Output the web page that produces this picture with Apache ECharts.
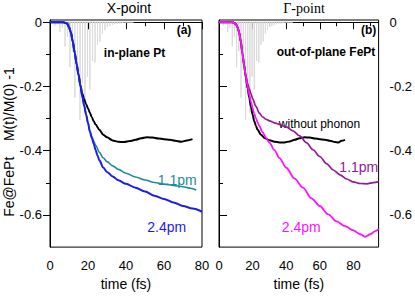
<!DOCTYPE html>
<html>
<head>
<meta charset="utf-8">
<script src="https://cdn.jsdelivr.net/npm/echarts@6/dist/echarts.min.js"></script>
<style>
html,body{margin:0;padding:0;background:#fff;}
#c{width:415px;height:296px;}
</style>
</head>
<body>
<div id="c"></div>
<script>
// ---- data (time in fs, value = M(t)/M(0) - 1) ----
const pulseT = [2.6, 3.9, 5.2, 6.5, 7.9, 9.2, 10.5, 11.8, 13.1, 14.5, 15.8, 17.1, 18.4, 19.7, 21.0, 22.4, 23.7, 25.0, 26.3, 27.6, 28.9, 30.2, 31.5, 32.9, 34.2, 35.5, 36.8, 38.1, 39.4];
const pulseV = [-0.01, -0.006, -0.03, -0.018, -0.075, -0.045, -0.14, -0.09, -0.235, -0.15, -0.305, -0.19, -0.28, -0.17, -0.21, -0.12, -0.125, -0.07, -0.06, -0.035, -0.025, -0.015, -0.012, -0.008, -0.006, -0.004, -0.004, -0.003, -0.002];
const pulseEnd = 44;

// X-point, in-plane Pt
const xNoPhT = [0,7,9,10,11,12,13,14,15,16,17,18,19,20,21,22,23,24,26,28,30,33,36,39,42,45,48,51,54,57,60,63,66,69,72,75];
const xNoPhV = [0,0,-0.004,-0.015,-0.032,-0.06,-0.095,-0.13,-0.163,-0.196,-0.222,-0.24,-0.255,-0.268,-0.282,-0.296,-0.308,-0.318,-0.335,-0.35,-0.358,-0.368,-0.372,-0.373,-0.370,-0.366,-0.361,-0.358,-0.359,-0.362,-0.364,-0.366,-0.369,-0.372,-0.368,-0.364];
const x11T = [0,7,9,10,11,12,13,14,15,16,17,18,19,20,21,22,23,24,26,28,30,33,36,40,45,50,55,60,65,70,74,77];
const x11V = [0,0,-0.004,-0.015,-0.032,-0.06,-0.095,-0.13,-0.163,-0.198,-0.232,-0.26,-0.287,-0.314,-0.34,-0.356,-0.37,-0.383,-0.405,-0.422,-0.434,-0.447,-0.458,-0.47,-0.482,-0.491,-0.499,-0.504,-0.508,-0.512,-0.517,-0.522];
const x24T = [0,7,9,10,11,12,13,14,15,16,17,18,19,20,21,22,23,24,25,26,28,30,33,36,40,45,50,55,60,65,70,75,80];
const x24V = [0,0,-0.004,-0.015,-0.032,-0.06,-0.095,-0.13,-0.163,-0.198,-0.232,-0.26,-0.287,-0.314,-0.34,-0.36,-0.378,-0.398,-0.415,-0.43,-0.452,-0.466,-0.48,-0.492,-0.503,-0.515,-0.527,-0.54,-0.55,-0.561,-0.572,-0.58,-0.59];

// Gamma-point, out-of-plane FePt
const gNoPhT = [0,8,10,11,12,13,14,15,16,17,18,19,20,21,22,23,25,27,30,33,36,39,42,45,48,51,54,57,60,63,66,69,71,73,75];
const gNoPhV = [0,0,-0.005,-0.015,-0.032,-0.06,-0.1,-0.135,-0.172,-0.205,-0.235,-0.262,-0.288,-0.308,-0.323,-0.335,-0.35,-0.36,-0.367,-0.372,-0.374,-0.374,-0.371,-0.366,-0.361,-0.358,-0.359,-0.362,-0.364,-0.366,-0.369,-0.373,-0.374,-0.369,-0.366];
const g11T = [0,8,10,11,12,13,14,15,16,17,18,19,20,22,24,26,28,30,33,36,40,44,48,52,56,60,64,68,72,76,80,84,88,92,95];
const g11V = [0,0,-0.005,-0.015,-0.032,-0.06,-0.1,-0.135,-0.168,-0.19,-0.207,-0.222,-0.238,-0.262,-0.283,-0.295,-0.302,-0.307,-0.313,-0.318,-0.326,-0.338,-0.354,-0.375,-0.397,-0.418,-0.44,-0.46,-0.475,-0.488,-0.497,-0.502,-0.503,-0.499,-0.496];
const g24T = [0,8,10,11,12,13,14,15,16,17,18,19,20,21,22,23,24,26,28,30,33,36,40,45,50,55,60,65,70,75,80,84,87,90,93,95];
const g24V = [0,0,-0.005,-0.015,-0.032,-0.06,-0.1,-0.135,-0.17,-0.2,-0.225,-0.248,-0.268,-0.285,-0.299,-0.312,-0.323,-0.343,-0.36,-0.375,-0.398,-0.423,-0.453,-0.487,-0.515,-0.548,-0.572,-0.598,-0.62,-0.635,-0.648,-0.66,-0.668,-0.66,-0.65,-0.643];

// tick labels
const xMajorL = [0, 20, 40, 60, 80];
const xMinorL = [10, 30, 50, 70];
const xMajorR = [0, 20, 40, 60, 80];
const xMinorR = [10, 30, 50, 70, 90];
const yMajor = [0, -0.2, -0.4, -0.6];
const yMinor = [-0.1, -0.3, -0.5];

// ---- build ----
function pairs(T, V) { return T.map((t, i) => [t, V[i]]); }
function pulseData() {
  const d = [[0, 0]];
  pulseT.forEach((t, i) => { d.push([t, 0]); d.push([t, pulseV[i]]); d.push([t, 0]); });
  d.push([pulseEnd, 0]);
  return d;
}
const FONT = "'Liberation Sans', Arial, Helvetica, sans-serif";
const SERIF = "'Liberation Serif', 'Times New Roman', serif";

function xAxisDef(grid, max, vals, len, labels, name) {
  return {
    type: 'value', gridIndex: grid, min: 0, max: max, position: 'bottom',
    axisLine: { show: labels, lineStyle: { color: '#000', width: 1 } },
    axisTick: { show: true, customValues: vals, length: len, inside: false, lineStyle: { color: '#000', width: 1 } },
    axisLabel: labels ? { show: true, customValues: vals, color: '#000', fontSize: 13, fontFamily: FONT, margin: 12 } : { show: false },
    splitLine: { show: false },
    name: labels ? name : '', nameLocation: 'middle', nameGap: 24,
    nameTextStyle: { color: '#000', fontSize: 14, fontFamily: FONT }
  };
}
function yAxisDef(grid, pos, vals, len, labels, margin) {
  return {
    type: 'value', gridIndex: grid, min: -0.7, max: 0.007, position: pos,
    axisLine: { show: labels, lineStyle: { color: '#000', width: 1 } },
    axisTick: { show: true, customValues: vals, length: len, inside: false, lineStyle: { color: '#000', width: 1 } },
    axisLabel: labels ? { show: true, customValues: vals, color: '#000', fontSize: 13, fontFamily: FONT, margin: margin,
      formatter: v => (v === 0 ? '0' : String(Math.round(v * 10) / 10)) } : { show: false },
    splitLine: { show: false }
  };
}
function line(xi, data, color, width, z) {
  return { type: 'line', xAxisIndex: xi, yAxisIndex: xi, data: data, showSymbol: false, symbol: 'none',
    smooth: 0.3, smoothMonotone: 'x', lineStyle: { color: color, width: width }, z: z, silent: true };
}

const txt = (x, y, text, opts) => ({
  type: 'text', x: x, y: y, silent: true, rotation: opts.rot || 0,
  style: { text: text, fill: opts.color || '#000', fontSize: opts.size, fontWeight: opts.weight || 'normal',
    fontFamily: opts.family || FONT, textAlign: 'center', textVerticalAlign: 'middle' }
});

const chart = echarts.init(document.getElementById('c'), null, { renderer: 'svg', width: 415, height: 296 });
chart.setOption({
  animation: false,
  backgroundColor: '#fff',
  grid: [
    { left: 50, top: 20, width: 152, height: 237, show: true, borderColor: '#000', borderWidth: 1, containLabel: false },
    { left: 219, top: 20, width: 163, height: 237, show: true, borderColor: '#000', borderWidth: 1, containLabel: false }
  ],
  xAxis: [
    xAxisDef(0, 80, xMajorL, 7, true, 'time (fs)'),
    xAxisDef(0, 80, xMinorL, 4, false, ''),
    xAxisDef(1, 95, xMajorR, 7, true, 'time (fs)'),
    xAxisDef(1, 95, xMinorR, 4, false, '')
  ],
  yAxis: [
    yAxisDef(0, 'left', yMajor, 7, true, 8),
    yAxisDef(0, 'left', yMinor, 4, false, 0),
    yAxisDef(1, 'right', yMajor, 8, true, 11),
    yAxisDef(1, 'right', yMinor, 4, false, 0)
  ],
  series: [
    { type: 'line', xAxisIndex: 0, yAxisIndex: 0, data: pulseData(), symbol: 'none', lineStyle: { color: '#dadada', width: 1 }, z: 1, silent: true },
    line(0, pairs(xNoPhT, xNoPhV), '#000000', 2, 2),
    line(0, pairs(x11T, x11V), '#1e8c9c', 1.6, 3),
    line(0, pairs(x24T, x24V), '#1c1ce8', 2, 4),
    { type: 'line', xAxisIndex: 2, yAxisIndex: 2, data: pulseData(), symbol: 'none', lineStyle: { color: '#dadada', width: 1 }, z: 1, silent: true },
    line(2, pairs(gNoPhT, gNoPhV), '#000000', 2, 2),
    line(2, pairs(g11T, g11V), '#931a93', 1.7, 3),
    line(2, pairs(g24T, g24V), '#ff10ff', 1.8, 4)
  ],
  graphic: [
    txt(129, 8, 'X-point', { size: 14 }),
    txt(304, 8, 'Γ-point', { size: 14, family: SERIF }),
    txt(9, 142, 'Fe@FePt    M(t)/M(0) -1', { size: 14, rot: Math.PI / 2 }),
    txt(184, 30, '(a)', { size: 12, weight: 'bold' }),
    txt(134.5, 53, 'in-plane Pt', { size: 12, weight: 'bold' }),
    txt(177.3, 180, '1.1pm', { size: 14, color: '#1e8c9c' }),
    txt(166.7, 227.3, '2.4pm', { size: 14, color: '#1c1ce8' }),
    txt(368.7, 29.5, '(b)', { size: 12, weight: 'bold' }),
    txt(326, 52.3, 'out-of-plane FePt', { size: 12, weight: 'bold' }),
    txt(319.5, 124.3, 'without phonon', { size: 12 }),
    txt(358.8, 167.3, '1.1pm', { size: 14, color: '#931a93' }),
    txt(301.3, 227.3, '2.4pm', { size: 14, color: '#ff10ff' })
  ]
});
</script>
</body>
</html>
